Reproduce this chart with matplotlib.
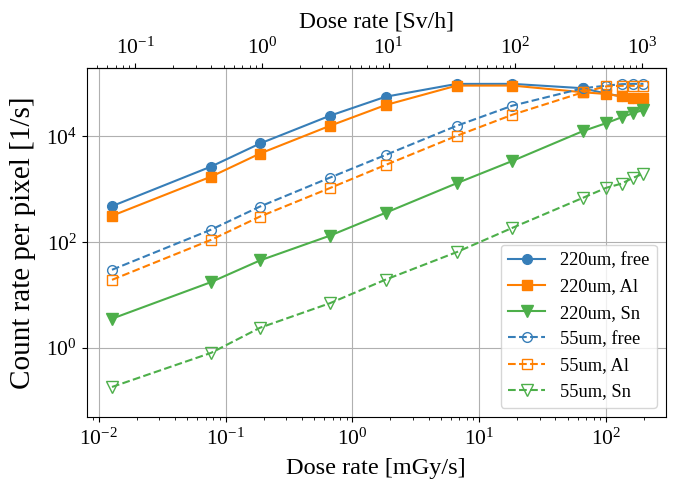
import matplotlib
matplotlib.use('Agg')
import matplotlib.pyplot as plt
from matplotlib.ticker import NullLocator

plt.rcParams['font.family'] = ['Liberation Serif', 'DejaVu Serif']
plt.rcParams['mathtext.fontset'] = 'stix'

# Dose rate [mGy/s] for each measurement point
dose = [0.0127, 0.0769, 0.187, 0.665, 1.83, 6.65, 18.3, 66.1, 101, 133, 165, 198]

# Count rate per pixel [1/s]
free_220 = [480, 2690, 7330, 24500, 56000, 97800, 98000, 81000, 64000, 57000, 53000, 51000]
al_220 = [316, 1735, 4740, 15800, 39000, 90800, 91000, 68000, 63000, 57000, 53000, 52000]
sn_220 = [3.6, 17.7, 45.4, 133, 360, 1300, 3430, 12600, 17800, 22900, 27600, 31500]
free_55 = [30.2, 173, 473, 1660, 4450, 15800, 38000, 81000, 90800, 96600, 98000, 98000]
al_55 = [19.5, 111, 306, 1054, 2880, 10200, 25600, 68000, 88000, 90000, 90000, 90000]
sn_55 = [0.185, 0.815, 2.43, 7.05, 19.7, 65, 187, 692, 1070, 1280, 1660, 1980]

# conversion mGy/s -> Sv/h used for the top axis
sv_per_mgy = 5.17
top_ticks = [0.1, 1, 10, 100, 1000]

blue = '#377eb8'
orange = '#ff7f00'
green = '#4daf4a'

fig = plt.figure(figsize=(6.78, 4.86), dpi=100)
ax = fig.add_axes([0.128, 0.142, 0.854, 0.718])

ax.plot(dose, free_220, '-o', color=blue, lw=1.5, ms=7, label='220um, free')
ax.plot(dose, al_220, '-s', color=orange, lw=1.5, ms=7, label='220um, Al')
ax.plot(dose, sn_220, '-v', color=green, lw=1.5, ms=8.5, label='220um, Sn')
ax.plot(dose, free_55, '--o', color=blue, lw=1.5, ms=7, mfc='none', label='55um, free')
ax.plot(dose, al_55, '--s', color=orange, lw=1.5, ms=7, mfc='none', label='55um, Al')
ax.plot(dose, sn_55, '--v', color=green, lw=1.5, ms=8.5, mfc='none', label='55um, Sn')

ax.set_xscale('log')
ax.set_yscale('log')
ax.set_xlim(10**-2.095, 10**2.473)
ax.set_ylim(10**-1.3, 10**5.29)
ax.set_yticks([1, 1e2, 1e4])
ax.yaxis.set_minor_locator(NullLocator())
ax.tick_params(labelsize=15.5)
ax.tick_params(axis='x', pad=5)
ax.grid(True, which='major')

ax.set_xlabel('Dose rate [mGy/s]', fontsize=17.5, labelpad=6)
ax.set_ylabel('Count rate per pixel [1/s]', fontsize=21, labelpad=7)

top = ax.secondary_xaxis('top', functions=(lambda x: x * sv_per_mgy,
                                           lambda x: x / sv_per_mgy))
top.set_xticks(top_ticks)
top.set_xlabel('Dose rate [Sv/h]', fontsize=17, labelpad=7)
top.tick_params(labelsize=15.5)

ax.legend(loc='lower right', fontsize=13.3)

fig.savefig('out.png', dpi=100)
